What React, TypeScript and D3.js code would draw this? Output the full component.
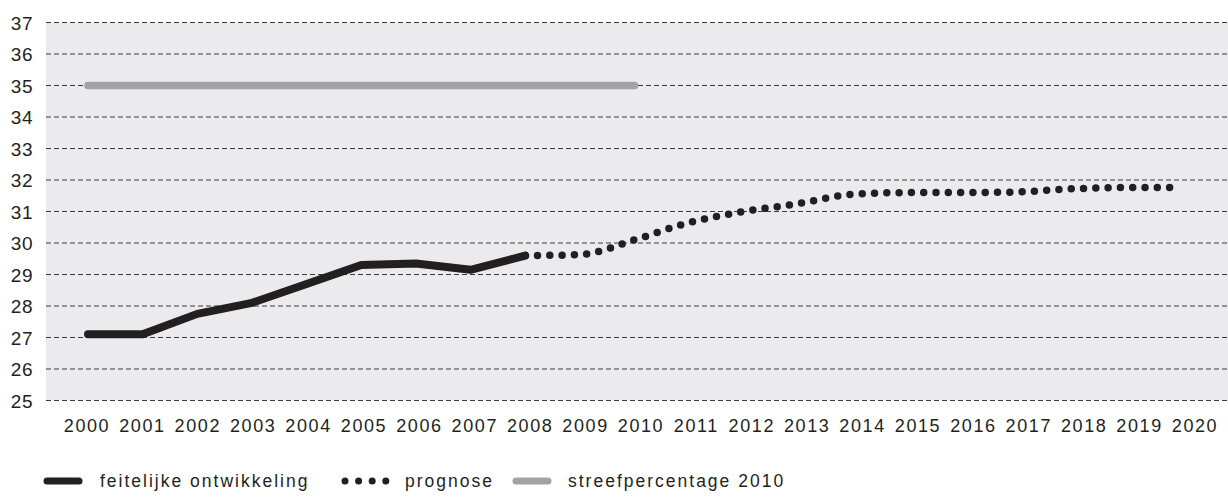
import React from "react";
import * as d3 from "d3";

const yTicks = [25, 26, 27, 28, 29, 30, 31, 32, 33, 34, 35, 36, 37];
const years = d3.range(2000, 2021);
const actualYears = [2000, 2001, 2002, 2003, 2004, 2005, 2006, 2007, 2008];
const actualValues = [27.1, 27.1, 27.75, 28.1, 28.7, 29.3, 29.35, 29.15, 29.6];
const forecastYears = [2008, 2009, 2010, 2011, 2012, 2013, 2014, 2015, 2016, 2017, 2018, 2019, 2020];
const forecastValues = [29.6, 29.63, 30.1, 30.65, 31.0, 31.25, 31.55, 31.6, 31.6, 31.62, 31.72, 31.76, 31.76];
const targetYears = [2000, 2010];
const targetValues = [35, 35];
const legendLabels = ["feitelijke ontwikkeling", "prognose", "streefpercentage 2010"];

const W = 1228;
const H = 497;
const FONT = "'Liberation Sans', Arial, sans-serif";
const BLACK = "#231f20";
const GREY = "#a3a3a5";

export default function App() {
  const plotLeft = 46;
  const plotRight = 1228;
  const y = d3.scaleLinear().domain([25, 37]).range([400.5, 22.5]);
  const x = d3.scaleLinear().domain([2000, 2020]).range([88, 1181]);
  const xLabel = d3.scaleLinear().domain([2000, 2020]).range([87, 1195]);

  const straight = d3
    .line<number>()
    .x((_, i) => x(actualYears[i]))
    .y((d) => y(d));
  const smooth = d3
    .line<number>()
    .x((_, i) => x(forecastYears[i]))
    .y((d) => y(d))
    .curve(d3.curveMonotoneX);
  const target = d3
    .line<number>()
    .x((_, i) => x(targetYears[i]))
    .y((d) => y(d));

  const legendY = 481;

  return (
    <div style={{ position: "absolute", left: 0, top: 0 }}>
      <svg width={W} height={H} style={{ display: "block" }}>
        <rect x={0} y={0} width={W} height={H} fill="#ffffff" />
        <rect
          x={plotLeft}
          y={y(37)}
          width={plotRight - plotLeft}
          height={y(25) - y(37)}
          fill="#ebebed"
        />
        {yTicks.map((t) => (
          <g key={t}>
            <line
              x1={plotLeft}
              x2={plotRight}
              y1={y(t)}
              y2={y(t)}
              stroke="#3a3a3a"
              strokeWidth={1}
              strokeDasharray="5 3"
            />
            <text
              x={33}
              y={y(t) + 7}
              textAnchor="end"
              fontFamily={FONT}
              fontSize={19}
              letterSpacing={0.5}
              fill="#231f20"
            >
              {t}
            </text>
          </g>
        ))}
        {years.map((yr) => (
          <text
            key={yr}
            x={xLabel(yr)}
            y={432}
            textAnchor="middle"
            fontFamily={FONT}
            fontSize={18}
            letterSpacing={1.6}
            fill="#231f20"
          >
            {yr}
          </text>
        ))}
        <path
          d={target(targetValues) || ""}
          fill="none"
          stroke={GREY}
          strokeWidth={7.5}
          strokeLinecap="round"
        />
        <path
          d={smooth(forecastValues) || ""}
          fill="none"
          stroke={BLACK}
          strokeWidth={7.5}
          strokeLinecap="round"
          strokeDasharray="0 12.3"
        />
        <path
          d={straight(actualValues) || ""}
          fill="none"
          stroke={BLACK}
          strokeWidth={8}
          strokeLinecap="round"
          strokeLinejoin="round"
        />
        {/* legend */}
        <line x1={47} x2={79} y1={legendY} y2={legendY} stroke={BLACK} strokeWidth={7} strokeLinecap="round" />
        <text x={100} y={legendY + 6} fontFamily={FONT} fontSize={17.5} letterSpacing={2} fill="#231f20">
          {legendLabels[0]}
        </text>
        <line
          x1={345}
          x2={386}
          y1={legendY}
          y2={legendY}
          stroke={BLACK}
          strokeWidth={7}
          strokeLinecap="round"
          strokeDasharray="0 13.6"
        />
        <text x={405} y={legendY + 6} fontFamily={FONT} fontSize={17.5} letterSpacing={2} fill="#231f20">
          {legendLabels[1]}
        </text>
        <line x1={516} x2={548} y1={legendY} y2={legendY} stroke={GREY} strokeWidth={7} strokeLinecap="round" />
        <text x={568} y={legendY + 6} fontFamily={FONT} fontSize={17.5} letterSpacing={2} fill="#231f20">
          {legendLabels[2]}
        </text>
      </svg>
    </div>
  );
}
